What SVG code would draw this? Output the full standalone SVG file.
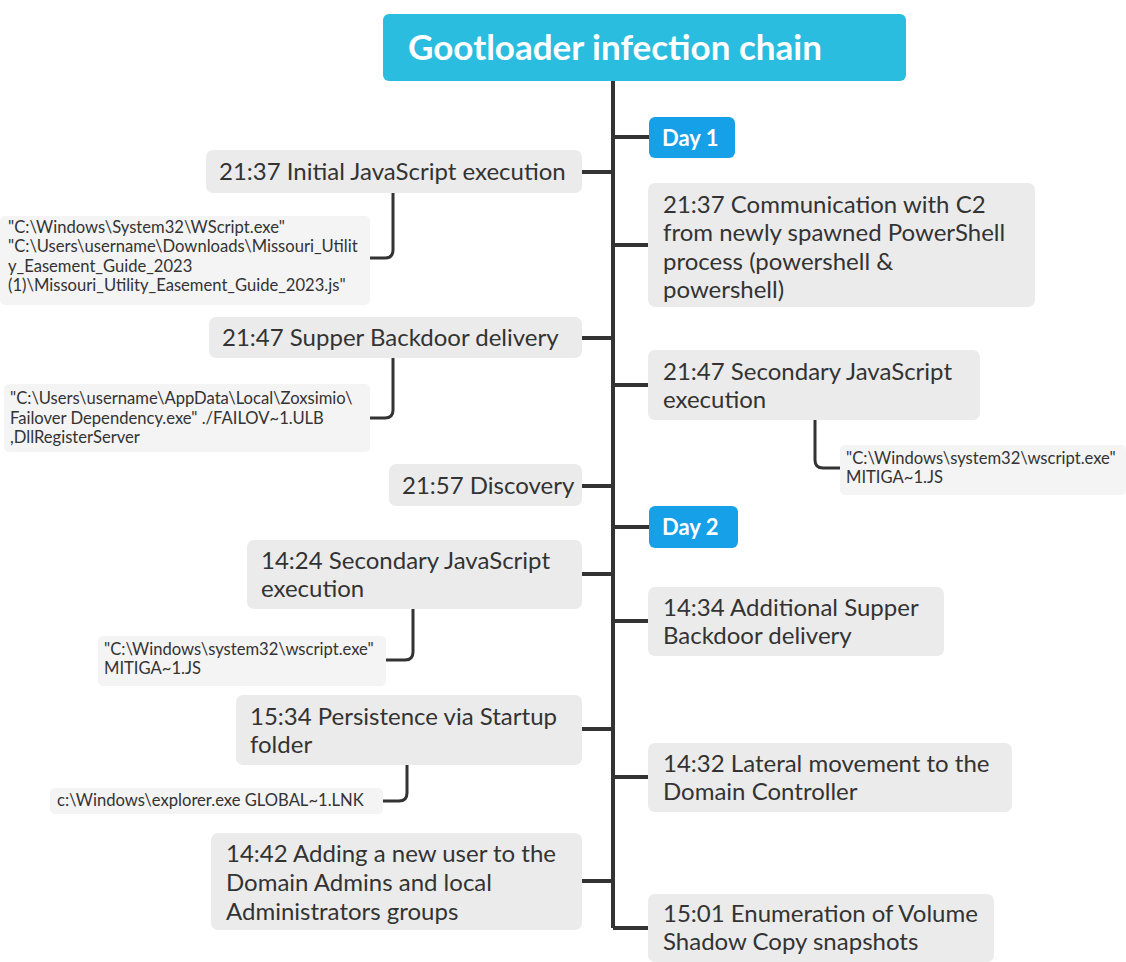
<svg xmlns="http://www.w3.org/2000/svg" width="1126" height="962" viewBox="0 0 1126 962">
  <style>
    .bg { fill: #ffffff; }
    .title-box { fill: #2bbde0; }
    .day-box { fill: #15a0e8; }
    .node-box { fill: #ebebeb; }
    .sub-box { fill: #f4f4f4; }
    .title { font-family: Lato, "Noto Sans", sans-serif; font-weight: 700; font-size: 35px; fill: #ffffff; }
    .day { font-family: Lato, "Noto Sans", sans-serif; font-weight: 700; font-size: 22px; fill: #ffffff; }
    .node { font-family: Lato, "Noto Sans", sans-serif; font-size: 24px; fill: #333333; }
    .sub { font-family: Lato, "Noto Sans", sans-serif; font-size: 16.6px; fill: #333333; }
    .wire { fill: none; stroke: #333333; stroke-width: 4; stroke-linejoin: round; }
    .wire-thin { fill: none; stroke: #333333; stroke-width: 3; stroke-linejoin: round; }
  </style>

  <rect class="bg" x="0" y="0" width="1126" height="962"/>

  <!-- connectors: timeline spine, branches, detail links -->
  <g id="connectors">
    <path class="wire" d="M613 81 V928"/>
    <!-- left branches -->
    <path class="wire" d="M582 172 H613"/>
    <path class="wire" d="M582 338 H613"/>
    <path class="wire" d="M582 486 H613"/>
    <path class="wire" d="M582 574 H613"/>
    <path class="wire" d="M582 729 H613"/>
    <path class="wire" d="M582 881 H613"/>
    <!-- right branches -->
    <path class="wire" d="M613 137 H649"/>
    <path class="wire" d="M613 245 H648"/>
    <path class="wire" d="M613 385 H648"/>
    <path class="wire" d="M613 527 H649"/>
    <path class="wire" d="M613 621 H648"/>
    <path class="wire" d="M613 777 H648"/>
    <path class="wire" d="M613 928 H648"/>
    <!-- detail links -->
    <path class="wire-thin" d="M393 193 V250 Q393 258 385 258 H370"/>
    <path class="wire-thin" d="M393 358 V410 Q393 418 385 418 H370"/>
    <path class="wire-thin" d="M815 420 V460 Q815 468 823 468 H840"/>
    <path class="wire-thin" d="M413 609 V652 Q413 660 405 660 H386"/>
    <path class="wire-thin" d="M407 765 V793 Q407 801 399 801 H383"/>
  </g>

  <g id="title">
    <rect class="title-box" x="383" y="14" width="523" height="67" rx="6"/>
    <text class="title" x="615" y="60" text-anchor="middle">Gootloader infection chain</text>
  </g>

  <g id="day1">
    <rect class="day-box" x="649" y="117" width="86" height="41" rx="6"/>
    <text class="day" x="662" y="146">Day 1</text>
  </g>

  <g id="day2">
    <rect class="day-box" x="649" y="506" width="89" height="42" rx="6"/>
    <text class="day" x="662" y="535">Day 2</text>
  </g>

  <!-- left column events -->
  <g id="n-initial-js">
    <rect class="node-box" x="206" y="150" width="376" height="43" rx="7"/>
    <text class="node" x="219" y="180">21:37 Initial JavaScript execution</text>
  </g>
  <g id="d-initial-js">
    <rect class="sub-box" x="0" y="216" width="370" height="89" rx="5"/>
    <text class="sub" x="8" y="233">"C:\Windows\System32\WScript.exe"</text>
    <text class="sub" x="8" y="252">"C:\Users\username\Downloads\Missouri_Utilit</text>
    <text class="sub" x="8" y="272">y_Easement_Guide_2023</text>
    <text class="sub" x="8" y="291">(1)\Missouri_Utility_Easement_Guide_2023.js"</text>
  </g>

  <g id="n-supper">
    <rect class="node-box" x="209" y="317" width="373" height="41" rx="7"/>
    <text class="node" x="222" y="346">21:47 Supper Backdoor delivery</text>
  </g>
  <g id="d-supper">
    <rect class="sub-box" x="4" y="384" width="366" height="68" rx="5"/>
    <text class="sub" x="10" y="404">"C:\Users\username\AppData\Local\Zoxsimio\</text>
    <text class="sub" x="10" y="424">Failover Dependency.exe" ./FAILOV~1.ULB</text>
    <text class="sub" x="10" y="443">,DllRegisterServer</text>
  </g>

  <g id="n-discovery">
    <rect class="node-box" x="389" y="464" width="193" height="42" rx="7"/>
    <text class="node" x="402" y="494">21:57 Discovery</text>
  </g>

  <g id="n-secondary-js-2">
    <rect class="node-box" x="247" y="540" width="335" height="69" rx="7"/>
    <text class="node" x="261" y="569">14:24 Secondary JavaScript</text>
    <text class="node" x="261" y="597">execution</text>
  </g>
  <g id="d-secondary-js-2">
    <rect class="sub-box" x="98" y="636" width="288" height="50" rx="5"/>
    <text class="sub" x="104" y="655">"C:\Windows\system32\wscript.exe"</text>
    <text class="sub" x="104" y="674">MITIGA~1.JS</text>
  </g>

  <g id="n-persistence">
    <rect class="node-box" x="236" y="695" width="346" height="70" rx="7"/>
    <text class="node" x="250" y="725">15:34 Persistence via Startup</text>
    <text class="node" x="250" y="753">folder</text>
  </g>
  <g id="d-persistence">
    <rect class="sub-box" x="50" y="788" width="333" height="26" rx="5"/>
    <text class="sub" x="57" y="806">c:\Windows\explorer.exe GLOBAL~1.LNK</text>
  </g>

  <g id="n-domain-admins">
    <rect class="node-box" x="211" y="833" width="371" height="97" rx="7"/>
    <text class="node" x="226" y="862">14:42 Adding a new user to the</text>
    <text class="node" x="226" y="891">Domain Admins and local</text>
    <text class="node" x="226" y="920">Administrators groups</text>
  </g>

  <!-- right column events -->
  <g id="n-c2">
    <rect class="node-box" x="648" y="183" width="387" height="124" rx="7"/>
    <text class="node" x="663" y="213">21:37 Communication with C2</text>
    <text class="node" x="663" y="241">from newly spawned PowerShell</text>
    <text class="node" x="663" y="270">process (powershell &amp;</text>
    <text class="node" x="663" y="298">powershell)</text>
  </g>

  <g id="n-secondary-js-1">
    <rect class="node-box" x="648" y="350" width="332" height="70" rx="7"/>
    <text class="node" x="663" y="380">21:47 Secondary JavaScript</text>
    <text class="node" x="663" y="408">execution</text>
  </g>
  <g id="d-secondary-js-1">
    <rect class="sub-box" x="840" y="445" width="286" height="50" rx="5"/>
    <text class="sub" x="846" y="464">"C:\Windows\system32\wscript.exe"</text>
    <text class="sub" x="846" y="483">MITIGA~1.JS</text>
  </g>

  <g id="n-additional-supper">
    <rect class="node-box" x="648" y="587" width="296" height="69" rx="7"/>
    <text class="node" x="663" y="616">14:34 Additional Supper</text>
    <text class="node" x="663" y="644">Backdoor delivery</text>
  </g>

  <g id="n-lateral">
    <rect class="node-box" x="648" y="743" width="364" height="69" rx="7"/>
    <text class="node" x="663" y="772">14:32 Lateral movement to the</text>
    <text class="node" x="663" y="800">Domain Controller</text>
  </g>

  <g id="n-vss">
    <rect class="node-box" x="648" y="894" width="346" height="68" rx="7"/>
    <text class="node" x="663" y="922">15:01 Enumeration of Volume</text>
    <text class="node" x="663" y="950">Shadow Copy snapshots</text>
  </g>
</svg>
